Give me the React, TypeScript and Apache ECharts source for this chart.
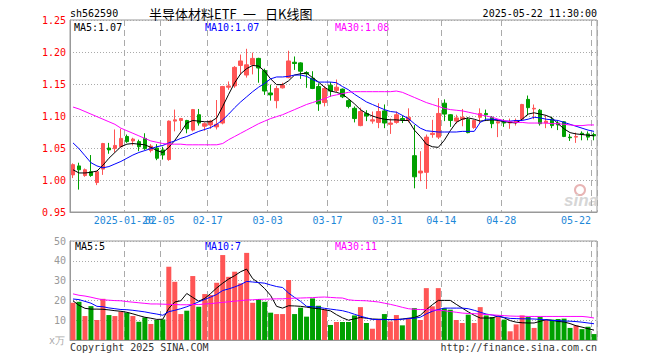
import React, { useEffect, useRef } from "react";
import * as echarts from "echarts";

const dates = [
  "2025-01-07","2025-01-08","2025-01-09","2025-01-10","2025-01-13","2025-01-14","2025-01-15","2025-01-16","2025-01-17",
  "2025-01-20","2025-01-21","2025-01-22","2025-01-23","2025-01-24","2025-01-27",
  "2025-02-05","2025-02-06","2025-02-07","2025-02-10","2025-02-11","2025-02-12","2025-02-13","2025-02-14",
  "2025-02-17","2025-02-18","2025-02-19","2025-02-20","2025-02-21","2025-02-24","2025-02-25","2025-02-26","2025-02-27","2025-02-28",
  "2025-03-03","2025-03-04","2025-03-05","2025-03-06","2025-03-07","2025-03-10","2025-03-11","2025-03-12","2025-03-13","2025-03-14",
  "2025-03-17","2025-03-18","2025-03-19","2025-03-20","2025-03-21","2025-03-24","2025-03-25","2025-03-26","2025-03-27","2025-03-28",
  "2025-03-31","2025-04-01","2025-04-02","2025-04-03","2025-04-07","2025-04-08","2025-04-09","2025-04-10","2025-04-11",
  "2025-04-14","2025-04-15","2025-04-16","2025-04-17","2025-04-18","2025-04-21","2025-04-22","2025-04-23","2025-04-24","2025-04-25",
  "2025-04-28","2025-04-29","2025-04-30","2025-05-06","2025-05-07","2025-05-08","2025-05-09","2025-05-12","2025-05-13","2025-05-14",
  "2025-05-15","2025-05-16","2025-05-19","2025-05-20","2025-05-21","2025-05-22",
];

const opens = [
  1.008,1.022,1.007,1.013,0.996,1.017,1.050,1.049,1.052,1.068,1.061,1.060,1.065,1.046,1.050,1.047,1.032,1.092,1.093,1.093,
  1.078,1.102,1.084,1.086,1.083,1.089,1.145,1.147,1.179,1.164,1.180,1.190,1.171,1.136,1.124,1.144,1.160,1.184,1.183,1.168,
  1.159,1.146,1.121,1.148,1.140,1.142,1.124,1.112,1.085,1.104,1.092,1.090,1.108,1.087,1.090,1.096,1.093,1.038,1.011,1.012,
  1.071,1.067,1.120,1.102,1.092,1.095,1.095,1.082,1.098,1.104,1.098,1.089,1.090,1.089,1.090,1.095,1.126,1.111,1.109,1.089,
  1.095,1.089,1.091,1.067,1.067,1.073,1.072,1.071,
];
const closes = [
  1.024,1.016,1.016,1.007,1.013,1.057,1.047,1.054,1.065,1.060,1.064,1.052,1.049,1.053,1.034,1.039,1.092,1.094,1.096,1.080,
  1.110,1.089,1.088,1.092,1.087,1.146,1.147,1.176,1.186,1.180,1.190,1.175,1.139,1.133,1.143,1.148,1.186,1.182,1.170,1.166,
  1.143,1.119,1.143,1.139,1.145,1.130,1.115,1.096,1.107,1.100,1.094,1.107,1.089,1.089,1.102,1.094,1.098,1.005,1.014,1.067,
  1.073,1.104,1.103,1.093,1.097,1.098,1.074,1.093,1.104,1.102,1.088,1.091,1.089,1.091,1.093,1.118,1.113,1.112,1.088,1.092,
  1.085,1.086,1.068,1.066,1.068,1.071,1.067,1.069,
];
const lows = [
  1.003,0.985,1.005,1.005,0.992,1.008,1.041,1.043,1.051,1.058,1.054,1.045,1.047,1.043,1.031,1.032,1.030,1.076,1.078,1.073,
  1.076,1.085,1.077,1.080,1.079,1.087,1.141,1.144,1.165,1.160,1.165,1.152,1.133,1.124,1.112,1.143,1.159,1.172,1.158,1.144,
  1.142,1.108,1.115,1.130,1.137,1.128,1.112,1.090,1.084,1.092,1.088,1.081,1.081,1.072,1.088,1.089,1.090,0.987,0.998,0.986,
  1.066,1.064,1.092,1.083,1.088,1.084,1.073,1.080,1.089,1.095,1.081,1.067,1.083,1.080,1.085,1.095,1.101,1.095,1.085,1.081,
  1.081,1.078,1.067,1.061,1.058,1.062,1.062,1.062,
];
const highs = [
  1.026,1.027,1.018,1.039,1.014,1.058,1.058,1.079,1.080,1.071,1.066,1.063,1.073,1.056,1.056,1.052,1.093,1.110,1.097,1.094,
  1.111,1.111,1.090,1.094,1.125,1.147,1.154,1.178,1.196,1.205,1.199,1.191,1.174,1.149,1.147,1.152,1.202,1.193,1.184,1.170,
  1.170,1.151,1.147,1.153,1.157,1.143,1.126,1.115,1.113,1.109,1.107,1.120,1.118,1.096,1.107,1.101,1.112,1.086,1.045,1.071,
  1.094,1.128,1.126,1.103,1.102,1.111,1.098,1.094,1.112,1.110,1.100,1.094,1.095,1.096,1.096,1.119,1.132,1.118,1.111,1.101,
  1.099,1.092,1.092,1.072,1.074,1.076,1.076,1.074,
];

const ma5 = [
  1.016,1.011,1.011,1.012,1.014,1.023,1.034,1.043,1.052,1.056,1.057,1.056,1.055,1.051,1.046,1.043,1.051,1.062,1.075,1.089,
  1.093,1.092,1.091,1.091,1.097,1.115,1.134,1.152,1.166,1.174,1.179,1.178,1.170,1.158,1.149,1.149,1.155,1.164,1.166,1.167,
  1.160,1.153,1.145,1.139,1.137,1.134,1.127,1.119,1.110,1.104,1.100,1.097,1.095,1.094,1.094,1.093,1.093,1.078,1.068,1.056,
  1.052,1.051,1.062,1.077,1.090,1.095,1.097,1.095,1.092,1.093,1.094,1.093,1.091,1.090,1.089,1.095,1.103,1.105,1.103,1.101,
  1.097,1.088,1.080,1.074,1.072,1.071,1.070,1.069,
];
const ma10 = [
  1.058,1.049,1.038,1.027,1.022,1.019,1.021,1.025,1.029,1.034,1.039,1.043,1.046,1.049,1.052,1.054,1.058,1.061,1.065,1.068,
  1.072,1.076,1.079,1.082,1.087,1.094,1.103,1.113,1.122,1.130,1.138,1.145,1.151,1.158,1.161,1.161,1.162,1.164,1.164,1.162,
  1.157,1.153,1.153,1.153,1.152,1.146,1.141,1.134,1.128,1.122,1.118,1.114,1.110,1.107,1.106,1.101,1.096,1.088,1.081,1.077,
  1.076,1.075,1.075,1.075,1.075,1.076,1.076,1.076,1.090,1.095,1.095,1.094,1.092,1.092,1.093,1.093,1.095,1.098,1.097,1.095,
  1.094,1.093,1.090,1.087,1.084,1.081,1.078,1.076,
];
const ma30 = [
  1.114,1.111,1.107,1.103,1.099,1.095,1.091,1.087,1.081,1.077,1.073,1.069,1.065,1.061,1.059,1.057,1.056,1.056,1.056,1.055,
  1.055,1.055,1.055,1.055,1.055,1.057,1.063,1.068,1.073,1.078,1.083,1.088,1.092,1.096,1.099,1.102,1.106,1.110,1.114,1.118,
  1.121,1.124,1.127,1.131,1.133,1.135,1.137,1.138,1.138,1.138,1.138,1.138,1.138,1.138,1.139,1.137,1.133,1.129,1.125,1.121,
  1.118,1.115,1.112,1.110,1.109,1.108,1.106,1.104,1.102,1.100,1.098,1.095,1.093,1.091,1.090,1.090,1.089,1.089,1.089,1.089,
  1.088,1.088,1.087,1.086,1.085,1.085,1.086,1.086,
];

const volumes = [
  18.8,19.3,12.1,17.1,10.1,20.8,12.6,12.1,14.3,13.8,12.1,9.2,11.4,8.1,10.1,10.4,37.0,29.4,13.1,14.8,
  32.3,16.8,23.2,22.7,28.9,42.9,31.9,34.5,28.6,44.0,18.8,20.7,19.3,13.8,13.1,13.1,30.3,13.1,16.3,11.8,
  21.0,17.3,15.5,7.6,9.1,9.1,9.1,12.4,16.6,8.6,5.7,10.6,13.1,9.4,12.6,7.4,11.1,16.1,10.1,26.2,
  17.0,26.2,16.1,15.3,10.1,8.6,12.8,8.6,16.6,12.4,11.6,11.6,10.3,4.4,7.9,12.4,11.6,6.1,11.6,10.1,
  10.3,10.6,10.8,6.1,7.4,5.5,6.7,3.0,
];
const volMa5 = [
  19.8,17.5,16.0,15.6,15.6,15.5,15.2,14.8,14.5,14.0,13.2,12.3,11.5,11.0,10.4,10.5,16.0,19.2,19.8,23.5,
  21.5,19.6,21.0,23.5,26.3,28.7,30.8,32.5,34.5,35.8,31.0,28.8,26.0,22.5,17.0,16.1,17.3,17.2,17.0,16.6,
  16.1,15.8,15.3,14.7,12.8,11.2,10.0,10.7,11.4,11.0,10.6,10.5,10.4,10.3,10.3,10.6,11.0,11.3,12.5,15.3,
  17.8,20.0,20.0,20.0,18.0,16.1,14.2,12.5,11.1,11.1,11.1,12.2,11.2,9.8,9.0,8.7,8.6,8.6,9.4,10.3,
  9.9,9.4,9.1,8.3,7.2,6.5,5.7,5.0,
];
const volMa10 = [
  20.7,20.4,19.5,18.6,17.0,16.8,16.2,15.8,15.4,15.3,15.0,14.6,14.2,13.6,13.1,12.5,14.3,15.0,15.8,16.8,
  18.0,19.3,20.5,21.7,23.0,25.0,25.8,26.8,28.0,29.6,29.3,29.0,28.7,27.8,27.0,26.5,23.7,21.5,19.5,17.0,
  16.8,16.5,16.0,15.6,15.2,14.8,14.0,13.0,12.0,11.2,10.4,10.3,10.3,10.3,10.3,10.5,10.8,11.0,11.5,13.2,
  14.5,15.4,16.1,16.1,16.1,16.1,15.8,15.0,14.0,13.1,12.6,11.9,11.4,10.9,10.8,10.7,10.7,10.6,10.4,10.2,
  9.9,9.8,9.6,9.5,9.3,9.0,8.6,8.2,
];
const volMa30 = [
  23.3,22.6,22.2,21.6,20.9,20.3,20.1,19.9,19.8,19.4,19.1,18.8,18.5,18.2,18.2,18.1,18.0,17.9,17.8,17.8,
  17.9,17.9,18.2,18.4,18.7,19.0,19.3,19.6,19.9,20.2,20.3,20.5,20.6,20.7,20.8,20.8,21.0,21.1,21.2,21.3,
  21.4,21.6,21.7,21.5,21.3,21.2,20.3,20.0,19.9,19.8,19.5,19.2,18.6,18.0,17.3,16.5,15.8,15.5,15.4,15.3,
  15.2,15.0,14.8,14.4,14.0,13.6,13.4,13.3,13.1,12.9,12.7,12.5,12.3,12.1,12.0,12.0,11.9,11.9,11.9,11.9,
  11.9,11.9,11.9,11.9,11.9,11.9,11.6,11.1,
];

const labelIndexes = [9, 15, 23, 33, 43, 53, 62, 72, 87];
const firstLabelIndex = 9;
const lastLabelIndex = 87;
const priceTicks = { min: 0.95, max: 1.25, interval: 0.05 };
const volTicks = { min: 0, max: 50, interval: 10 };

const RED = "#ff5555";
const GREEN = "#00a000";
const MONO = "DejaVu Sans Mono";
const XLABEL = "#1e88d8";

export default function App() {
  const ref = useRef<HTMLDivElement>(null);
  useEffect(() => {
    if (!ref.current) return;
    const chart = echarts.init(ref.current, undefined, { renderer: "svg" });
    const labelSet = new Set(labelIndexes);
    const showIdx = (i: number) => labelSet.has(i);
    const gridLineX = { show: true, interval: showIdx, lineStyle: { color: "#aaa", type: [6, 4] as any, width: 1 } };
    const gridLineY = { show: true, lineStyle: { color: "#aaa", type: [1, 2] as any, width: 1 } };
    const candle = dates.map((_, i) => [opens[i], closes[i], lows[i], highs[i]]);
    const rich = {
      n: { color: XLABEL, fontFamily: MONO, fontSize: 10, padding: [0, 6, 0, 0] },
      e: { color: XLABEL, fontFamily: MONO, fontSize: 10, padding: [0, 36, 0, 0] },
    };
    const txt = (text: string, x: number, y: number, fill: string, extra: any = {}) => ({
      type: "text",
      x,
      y,
      silent: true,
      style: { text, fill, font: `10px '${MONO}'`, textAlign: "left", textVerticalAlign: "middle", ...extra },
    });
    const cjk = (text: string, x: number) => ({
      type: "text",
      x,
      y: 13,
      silent: true,
      style: { text, fill: "#000", font: "13px 'Noto Sans CJK SC'", textAlign: "left", textVerticalAlign: "middle" },
    });
    chart.setOption({
      animation: false,
      backgroundColor: "#fff",
      grid: [
        { left: 70, top: 20, width: 527, height: 192, show: true, borderColor: "#999", borderWidth: 1, backgroundColor: "transparent" },
        { left: 70, top: 241, width: 527, height: 99, show: true, borderColor: "#999", borderWidth: 1, backgroundColor: "transparent" },
      ],
      xAxis: [
        {
          type: "category",
          gridIndex: 0,
          data: dates,
          boundaryGap: true,
          axisLine: { show: true, lineStyle: { color: "#999" } },
          axisTick: { show: false },
          axisLabel: {
            interval: (i: number) => labelSet.has(i) && i !== firstLabelIndex,
            hideOverlap: false,
            margin: 3,
            rich,
            formatter: (v: string, i: number) => (i === lastLabelIndex ? `{e|${v.slice(5)}}` : `{n|${v.slice(5)}}`),
          },
          splitLine: gridLineX,
        },
        {
          type: "category",
          gridIndex: 1,
          data: dates,
          boundaryGap: true,
          axisLine: { show: true, lineStyle: { color: "#999" } },
          axisTick: { show: false },
          axisLabel: { show: false },
          splitLine: gridLineX,
        },
        {
          type: "category",
          gridIndex: 0,
          position: "bottom",
          data: dates,
          boundaryGap: true,
          axisLine: { show: false },
          axisTick: { show: false },
          splitLine: { show: false },
          axisLabel: {
            interval: (i: number) => i === firstLabelIndex,
            hideOverlap: false,
            margin: 3,
            rich,
            formatter: (v: string) => `{n|${v}}`,
          },
        },
      ],
      yAxis: [
        {
          type: "value",
          gridIndex: 0,
          ...priceTicks,
          axisLine: { show: true, lineStyle: { color: "#999" } },
          axisTick: { show: false },
          axisLabel: { color: "#ff0000", fontFamily: MONO, fontSize: 10, margin: 4, formatter: (v: number) => v.toFixed(2) },
          splitLine: gridLineY,
        },
        {
          type: "value",
          gridIndex: 1,
          ...volTicks,
          axisLine: { show: true, lineStyle: { color: "#999" } },
          axisTick: { show: false },
          axisLabel: { color: "#999", fontFamily: MONO, fontSize: 10, margin: 4, formatter: (v: number) => (v === 0 ? "" : String(v)) },
          splitLine: gridLineY,
        },
      ],
      series: [
        {
          type: "candlestick",
          xAxisIndex: 0,
          yAxisIndex: 0,
          data: candle,
          barWidth: 4,
          itemStyle: { color: RED, color0: GREEN, borderColor: RED, borderColor0: GREEN, borderWidth: 1 },
        },
        { type: "line", xAxisIndex: 0, yAxisIndex: 0, data: ma5, showSymbol: false, lineStyle: { color: "#000", width: 1 }, z: 5 },
        { type: "line", xAxisIndex: 0, yAxisIndex: 0, data: ma10, showSymbol: false, lineStyle: { color: "#0000ff", width: 1 }, z: 5 },
        { type: "line", xAxisIndex: 0, yAxisIndex: 0, data: ma30, showSymbol: false, lineStyle: { color: "#ff00ff", width: 1 }, z: 5 },
        {
          type: "bar",
          xAxisIndex: 1,
          yAxisIndex: 1,
          data: volumes,
          barWidth: 5,
          itemStyle: { color: (p: any) => (closes[p.dataIndex] >= opens[p.dataIndex] ? RED : GREEN) },
        },
        { type: "line", xAxisIndex: 1, yAxisIndex: 1, data: volMa5, showSymbol: false, lineStyle: { color: "#000", width: 1 }, z: 5 },
        { type: "line", xAxisIndex: 1, yAxisIndex: 1, data: volMa10, showSymbol: false, lineStyle: { color: "#0000ff", width: 1 }, z: 5 },
        { type: "line", xAxisIndex: 1, yAxisIndex: 1, data: volMa30, showSymbol: false, lineStyle: { color: "#ff00ff", width: 1 }, z: 5 },
      ],
      graphic: [
        txt("sh562590", 70, 13, "#000"),
        cjk("半导体材料ETF", 149),
        cjk("一", 243),
        cjk("日K线图", 265),
        txt("2025-05-22 11:30:00", 597, 13, "#000", { textAlign: "right" }),
        txt("MA5:1.07", 74, 27, "#000"),
        txt("MA10:1.07", 205, 27, "#0000ff"),
        txt("MA30:1.08", 335, 27, "#ff00ff"),
        txt("MA5:5", 75, 246, "#000"),
        txt("MA10:7", 205, 246, "#0000ff"),
        txt("MA30:11", 335, 246, "#ff00ff"),
        txt("x万", 49, 340, "#aaa"),
        txt("Copyright 2025 SINA.COM", 70, 347, "#333"),
        txt("http://finance.sina.com.cn", 597, 347, "#333", { textAlign: "right" }),
        { type: "circle", silent: true, shape: { cx: 580, cy: 190, r: 5 }, style: { fill: "none", stroke: "#e8b4b4", lineWidth: 2 } },
        {
          type: "text",
          x: 581,
          y: 200,
          silent: true,
          style: { text: "sina", fill: "#d6d6d6", font: "italic bold 17px 'Liberation Sans'", textAlign: "center", textVerticalAlign: "middle" },
        },
      ],
    });
    return () => chart.dispose();
  }, []);
  return <div ref={ref} style={{ position: "absolute", left: 0, top: 0, width: 660, height: 360 }} />;
}
